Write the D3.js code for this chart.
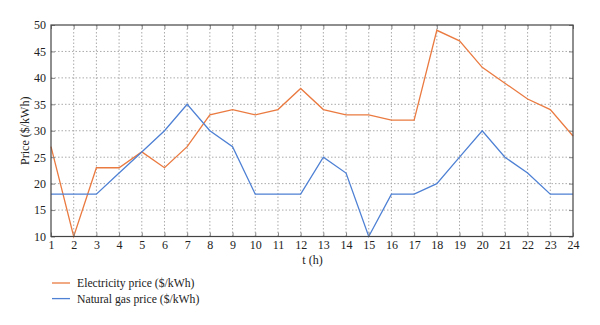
<!DOCTYPE html>
<html>
<head>
<meta charset="utf-8">
<script src="https://cdn.jsdelivr.net/npm/d3@7"></script>
<style>
  html, body { margin: 0; padding: 0; background: #fff; }
  svg { display: block; }
  text { font-family: "Liberation Serif", "DejaVu Serif", serif; fill: #222; }
</style>
</head>
<body>
<svg id="chart" width="600" height="325"></svg>
<script>
// Hourly prices over one day
const hours = d3.range(1, 25);
const electricityPrice = [27, 10, 23, 23, 26, 23, 27, 33, 34, 33, 34, 38, 34, 33, 33, 32, 32, 49, 47, 42, 39, 36, 34, 29];
const gasPrice = [18, 18, 18, 22, 26, 30, 35, 30, 27, 18, 18, 18, 25, 22, 10, 18, 18, 20, 25, 30, 25, 22, 18, 18];
const yTicks = [10, 15, 20, 25, 30, 35, 40, 45, 50];
const seriesNames = ["Electricity price ($/kWh)", "Natural gas price ($/kWh)"];
const seriesColors = ["#EA7A40", "#4E80D4"];

const svg = d3.select("#chart");
const plot = { left: 51, right: 573, top: 25, bottom: 236.5 };

const x = d3.scaleLinear().domain([1, 24]).range([plot.left, plot.right]);
const y = d3.scaleLinear().domain([10, 50]).range([plot.bottom, plot.top]);

// dotted grid
const grid = svg.append("g");
grid.selectAll("line.vx").data(hours.slice(1, -1)).join("line")
  .attr("x1", d => x(d)).attr("x2", d => x(d))
  .attr("y1", plot.top).attr("y2", plot.bottom)
  .attr("stroke", "#aaa").attr("stroke-width", 1).attr("stroke-dasharray", "1.5,2");
grid.selectAll("line.hy").data(yTicks.slice(1, -1)).join("line")
  .attr("x1", plot.left).attr("x2", plot.right)
  .attr("y1", d => y(d)).attr("y2", d => y(d))
  .attr("stroke", "#aaa").attr("stroke-width", 1).attr("stroke-dasharray", "1.5,2");

// series lines
const line = d3.line().x((d, i) => x(hours[i])).y(d => y(d));
[electricityPrice, gasPrice].forEach((vals, k) => {
  svg.append("path").datum(vals)
    .attr("d", line)
    .attr("fill", "none")
    .attr("stroke", seriesColors[k])
    .attr("stroke-width", 1.3)
    .attr("stroke-linejoin", "miter");
});

// axes with inward ticks
const xAxis = d3.axisBottom(x).tickValues(hours).tickSizeInner(-4).tickSizeOuter(0).tickPadding(4);
const gx = svg.append("g").attr("transform", `translate(0,${plot.bottom})`).call(xAxis);
const yAxis = d3.axisLeft(y).tickValues(yTicks).tickSizeInner(-4).tickSizeOuter(0).tickPadding(5);
const gy = svg.append("g").attr("transform", `translate(${plot.left},0)`).call(yAxis);
const gxTop = svg.append("g").attr("transform", `translate(0,${plot.top})`)
  .call(d3.axisTop(x).tickValues(hours).tickSizeInner(-4).tickSizeOuter(0).tickFormat(""));
const gyRight = svg.append("g").attr("transform", `translate(${plot.right},0)`)
  .call(d3.axisRight(y).tickValues(yTicks).tickSizeInner(-4).tickSizeOuter(0).tickFormat(""));

[gx, gy, gxTop, gyRight].forEach(g => {
  g.select(".domain").remove();
  g.selectAll(".tick line").attr("stroke", "#888");
  g.selectAll(".tick text").style("font-family", '"Liberation Serif", serif')
    .style("font-size", "12px").attr("fill", "#222");
});

// frame
svg.append("rect")
  .attr("x", plot.left).attr("y", plot.top)
  .attr("width", plot.right - plot.left).attr("height", plot.bottom - plot.top)
  .attr("fill", "none").attr("stroke", "#444").attr("stroke-width", 1.2);

// axis titles
svg.append("text")
  .attr("x", (plot.left + plot.right) / 2 + 0.5).attr("y", 263.5)
  .attr("text-anchor", "middle").style("font-size", "12px")
  .text("t (h)");
svg.append("text")
  .attr("transform", `translate(29,${(plot.top + plot.bottom) / 2}) rotate(-90)`)
  .attr("text-anchor", "middle").style("font-size", "12px")
  .text("Price ($/kWh)");

// legend
const legend = svg.append("g");
seriesNames.forEach((name, k) => {
  const ly = 283 + k * 15.6;
  legend.append("line")
    .attr("x1", 52).attr("x2", 70).attr("y1", ly).attr("y2", ly)
    .attr("stroke", seriesColors[k]).attr("stroke-width", 1.3);
  legend.append("text")
    .attr("x", 77).attr("y", ly + 4)
    .style("font-size", "11.7px")
    .text(name);
});
</script>
</body>
</html>
